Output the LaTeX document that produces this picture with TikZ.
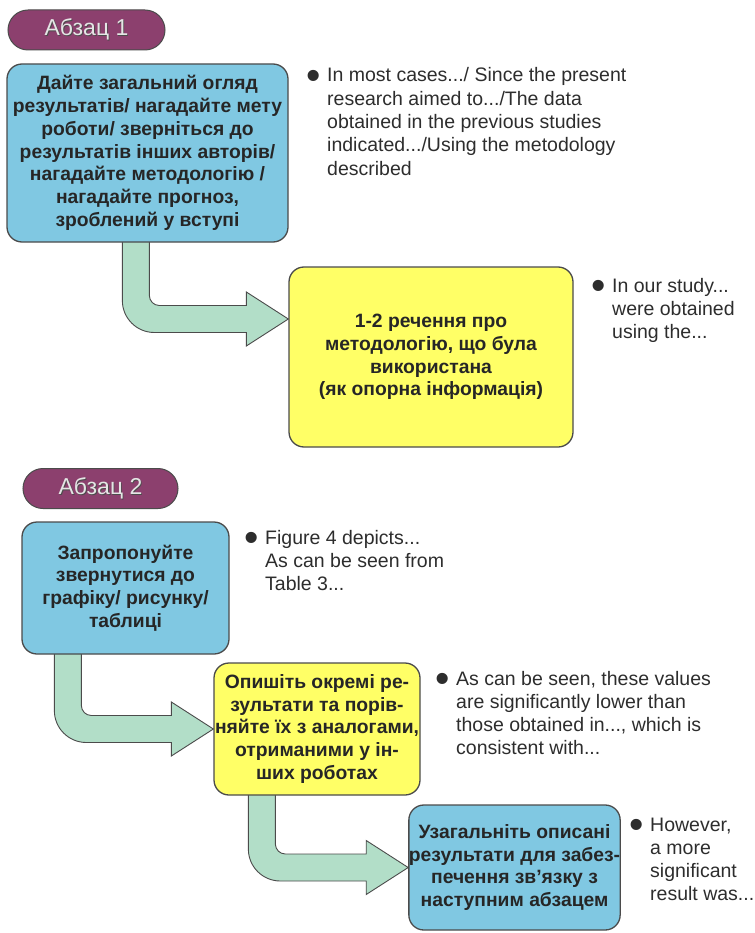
\documentclass[tikz,border=0pt]{standalone}
\usepackage{fontspec}
\setmainfont{Liberation Sans}
\usetikzlibrary{calc,backgrounds}

\definecolor{boxblue}{RGB}{128,200,226}
\definecolor{boxyellow}{RGB}{255,255,102}
\definecolor{arrowgreen}{RGB}{178,222,200}
\definecolor{pillpurple}{RGB}{140,64,110}
\definecolor{edgegrey}{RGB}{75,75,75}
\definecolor{notegrey}{RGB}{45,45,45}

\tikzset{
  stepbox/.style={draw=edgegrey, line width=1.3pt, rounded corners=15pt, align=center, inner sep=0pt,
    font=\bfseries\fontsize{19.3}{22.8}\selectfont, text=black!85},
  bluebox/.style={stepbox, fill=boxblue},
  yellowbox/.style={stepbox, fill=boxyellow},
  pill/.style={draw=edgegrey, line width=1pt, fill=pillpurple, rounded corners=20pt, minimum height=40pt,
    inner sep=0pt, text=white!90!black, font=\fontsize{23}{28}\selectfont},
  note/.style={anchor=base west, inner sep=0pt, text=notegrey, font=\fontsize{19.5}{23.3}\selectfont},
  bentarrow/.style={fill=arrowgreen, draw=edgegrey, line width=0.9pt},
}

\newcommand{\shadowtext}[1]{\rlap{\hspace{0.9pt}\raisebox{-0.9pt}{\color{black!70}#1}}#1}
\newcommand{\notelines}[1]{\begin{tabular}[t]{@{}l@{}l@{}}\makebox[21pt][l]{\raisebox{-7.5pt}{\scalebox{2.1}{\textbullet}}} & \begin{tabular}[t]{@{}l@{}}#1\end{tabular}\end{tabular}}
% source box, tip point, stem offset
\newcommand{\bendarrow}[3]{%
  \begin{pgfonlayer}{background}
  \draw[bentarrow] let \p1=(#1.south west), \p2=(#2) in
    (\x1+#3, \y1+3pt) -- (\x1+#3, \y2+18.5pt)
    .. controls (\x1+#3, \y2+0.8pt) and (\x1+#3+14.3pt, \y2-13.5pt) .. (\x1+#3+32pt, \y2-13.5pt)
    -- (\x2-42pt, \y2-13.5pt) -- (\x2-42pt, \y2-27pt) -- (\x2, \y2) -- (\x2-42pt, \y2+27pt)
    -- (\x2-42pt, \y2+13.5pt) -- (\x1+#3+37pt, \y2+13.5pt)
    .. controls (\x1+#3+31.5pt, \y2+13.5pt) and (\x1+#3+27pt, \y2+18pt) .. (\x1+#3+27pt, \y2+23.5pt)
    -- (\x1+#3+27pt, \y1+3pt) -- cycle;
  \end{pgfonlayer}}

\begin{document}
\begin{tikzpicture}[x=1pt, y=-1pt]
\useasboundingbox (0,0) rectangle (754,933);

% paragraph 1
\node[pill, minimum width=157pt] (p1) at (86.5,30) {\shadowtext{Абзац 1}};
\node[bluebox, minimum width=281pt, minimum height=178pt] (b1) at (147.5,153)
  {Дайте загальний огляд\\результатів/ нагадайте мету\\роботи/ зверніться до\\результатів інших авторів/\\нагадайте методологію /\\нагадайте прогноз,\\зроблений у вступі};
\node[yellowbox, minimum width=284pt, minimum height=180pt] (y1) at (431,357)
  {1-2 речення про\\методологію, що була\\використана\\(як опорна інформація)};
\node[note] (n1) at (306,82) {\notelines{In most cases.../ Since the present\\research aimed to.../The data\\obtained in the previous studies\\indicated.../Using the metodology\\described}};
\node[note] (n2) at (591,292) {\notelines{In our study...\\were obtained\\using the...}};
\bendarrow{b1}{$(y1.west)+(0,-38)$}{116pt}

% paragraph 2
\node[pill, minimum width=155pt] (p2) at (100.5,488.5) {\shadowtext{Абзац 2}};
\node[bluebox, minimum width=207pt, minimum height=132pt] (b2) at (125.5,588)
  {Запропонуйте\\звернутися до\\графіку/ рисунку/\\таблиці};
\node[yellowbox, minimum width=206pt, minimum height=132pt] (y2) at (317,729)
  {Опишіть окремі ре-\\зультати та порів-\\няйте їх з аналогами,\\отриманими у ін-\\ших роботах};
\node[bluebox, minimum width=207pt, minimum height=125pt] (b3) at (514.5,867.5)
  {Узагальніть описані\\результати для забез-\\печення зв’язку з\\наступним абзацем};
\node[note] (n3) at (244,544) {\notelines{Figure 4 depicts...\\As can be seen from\\Table 3...}};
\node[note] (n4) at (435,685) {\notelines{As can be seen, these values\\are significantly lower than\\those obtained in..., which is\\consistent with...}};
\node[note] (n5) at (629,831) {\notelines{However,\\a more\\significant\\result was...}};
\bendarrow{b2}{y2.west}{33pt}
\bendarrow{y2}{b3.west}{35pt}
\end{tikzpicture}
\end{document}
